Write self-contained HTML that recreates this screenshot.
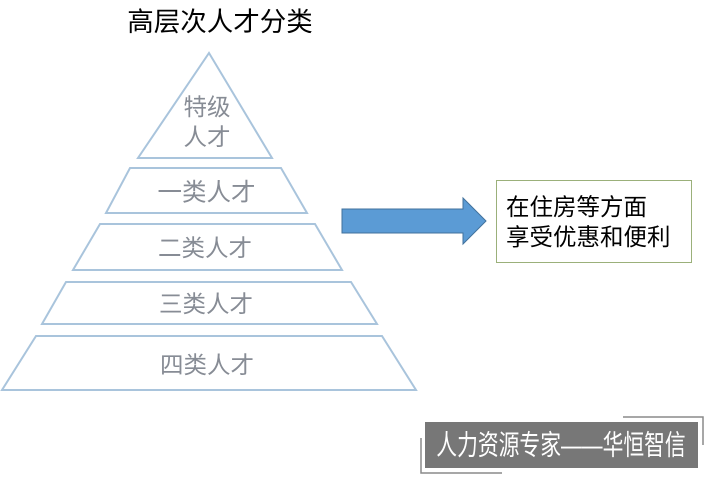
<!DOCTYPE html>
<html>
<head>
<meta charset="utf-8">
<style>
  html, body { margin: 0; padding: 0; background: #ffffff; }
  body { width: 710px; height: 479px; overflow: hidden; }
  svg { display: block; }
  text { font-family: "Liberation Sans", "Noto Sans CJK SC", "WenQuanYi Zen Hei", sans-serif; }
</style>
</head>
<body>
<svg width="710" height="479" viewBox="0 0 710 479" xmlns="http://www.w3.org/2000/svg">
  <rect x="0" y="0" width="710" height="479" fill="#ffffff"/>

  <!-- Title -->
  <text x="220" y="22" font-size="26.5" fill="#000000" text-anchor="middle" dominant-baseline="central">高层次人才分类</text>

  <!-- Pyramid -->
  <g fill="#ffffff" stroke="#a9c4dc" stroke-width="2" stroke-linejoin="miter">
    <polygon points="209,53 272,158 138,158"/>
    <polygon points="130,168 281,168 307,213 106,213"/>
    <polygon points="100,224 315,224 342,270 73,270"/>
    <polygon points="66,282 351,282 377,324 42,324"/>
    <polygon points="36,336 382,336 416,390 2,390"/>
  </g>

  <g font-size="23.5" fill="#878c95" text-anchor="middle" dominant-baseline="central">
    <text x="207" y="107">特级</text>
    <text x="207" y="137">人才</text>
    <text x="206.5" y="193" font-size="24.5">一类人才</text>
    <text x="205" y="248">二类人才</text>
    <text x="206" y="304">三类人才</text>
    <text x="207" y="365">四类人才</text>
  </g>

  <!-- Arrow -->
  <polygon points="342,209 463,209 463,198 486,221 463,244 463,233 342,233"
           fill="#5b9bd5" stroke="#41719c" stroke-width="1"/>

  <!-- Right box -->
  <rect x="496.5" y="180.5" width="195" height="82" fill="#ffffff" stroke="#9bb07a" stroke-width="1"/>
  <g font-size="23.5" fill="#000000" dominant-baseline="central">
    <text x="506" y="207">在住房等方面</text>
    <text x="506" y="237">享受优惠和便利</text>
  </g>

  <!-- Watermark -->
  <polyline points="623,417 703,417 703,445" fill="none" stroke="#8a8a8a" stroke-width="1.5"/>
  <polyline points="421,438 421,473 502,473" fill="none" stroke="#8a8a8a" stroke-width="1.5"/>
  <rect x="425" y="422" width="273" height="46" fill="#777777"/>
  <text x="0" y="0" font-size="26" fill="#ffffff" text-anchor="middle" dominant-baseline="central"
        transform="translate(561,446) scale(0.8,1.08)">人力资源专家——华恒智信</text>
</svg>
</body>
</html>
